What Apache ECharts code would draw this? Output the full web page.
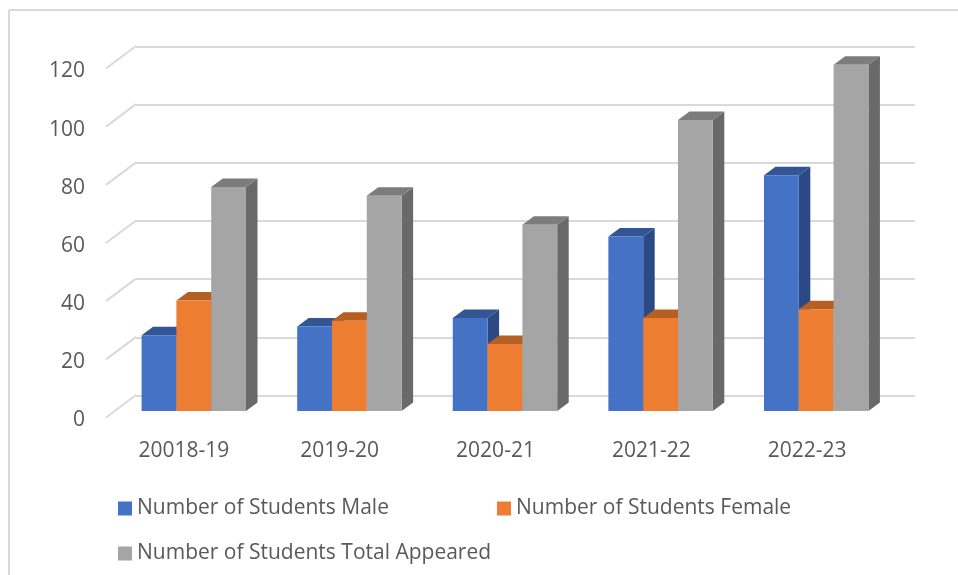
<!DOCTYPE html>
<html><head><meta charset="utf-8">
<style>html,body{margin:0;padding:0;background:#fff}#c{width:958px;height:575px}</style>
<script src="https://cdn.jsdelivr.net/npm/echarts@6/dist/echarts.min.js"></script>
</head><body><div id="c"></div>
<script>
const categories = ['20018-19','2019-20','2020-21','2021-22','2022-23'];
const male = [26,29,32,60,81];
const female = [38,31,23,32,35];
const total = [77,74,64,100,119];
const ticks = [0,20,40,60,80,100,120];
const names = ['Number of Students Male','Number of Students Female','Number of Students Total Appeared'];

const FONT = '"Open Sans","Noto Sans",sans-serif';
const TXT = '#595959', GRID = '#d9d9d9';
const faces = [
  {front:'#4472C4', top:'#335593', side:'#2B4A85'},
  {front:'#ED7D31', top:'#B65F23', side:'#8F4B1D'},
  {front:'#A5A5A5', top:'#7C7C7C', side:'#696969'}
];
const DX = 11.5, DY = 8.5;     // bar depth
const BAR_RATIO = 0.2237;      // one bar as a share of the category band
const WX = 30, WY = 22.5;      // side-wall depth

function barSeries(idx, values){
  const f = faces[idx];
  return {
    type:'custom', name:names[idx], xAxisIndex:0, yAxisIndex:0, z:5+idx, clip:false, silent:true,
    itemStyle:{color:f.front},
    encode:{x:0,y:1},
    data:values.map((v,i)=>[i,v]),
    renderItem(params, api){
      const p = api.coord([api.value(0), api.value(1)]);
      const b = api.coord([api.value(0), 0]);
      const band = api.size([1,0])[0];
      const w = band*BAR_RATIO;
      const x = p[0] - 1.5*w + idx*w;
      const y = p[1], y0 = b[1];
      return {type:'group', children:[
        {type:'polygon', shape:{points:[[x+w,y],[x+w+DX,y-DY],[x+w+DX,y0-DY],[x+w,y0]]}, style:{fill:f.side}},
        {type:'polygon', shape:{points:[[x,y],[x+w,y],[x+w+DX,y-DY],[x+DX,y-DY]]}, style:{fill:f.top}},
        {type:'rect', shape:{x:x,y:y,width:w,height:y0-y}, style:{fill:f.front}}
      ]};
    }
  };
}
const legendText = {color:TXT,fontFamily:FONT,fontSize:21};
const hiddenX = i => ({gridIndex:i,type:'category',data:categories,axisLine:{show:false},axisTick:{show:false},axisLabel:{show:false},splitLine:{show:false}});
const hiddenY = i => ({gridIndex:i,type:'value',min:0,max:120,interval:20,axisLine:{show:false},axisTick:{show:false},axisLabel:{show:false},splitLine:{show:false}});

const chart = echarts.init(document.getElementById('c'), null, {renderer:'canvas'});
chart.setOption({
  animation:false,
  backgroundColor:'#fff',
  graphic:[
    {type:'line', shape:{x1:9,y1:10,x2:958,y2:10}, style:{stroke:GRID,lineWidth:2}},
    {type:'line', shape:{x1:9,y1:10,x2:9,y2:575}, style:{stroke:GRID,lineWidth:2}}
  ],
  grid:[
    {left:116, top:61.8, width:778, height:349.2},   // plane of the bars
    {left:136, top:46.5, width:779, height:349},     // back wall
    {left:106, top:68.5, width:779, height:349},     // front edge of the side wall
    {left:106, top:71.5, width:779, height:349}      // value labels
  ],
  xAxis:[
    hiddenX(0), hiddenX(1),
    Object.assign(hiddenX(2),{axisLabel:{show:true,color:TXT,fontFamily:FONT,fontSize:21,margin:23}}),
    hiddenX(3)
  ],
  yAxis:[
    hiddenY(0),
    Object.assign(hiddenY(1),{splitLine:{show:true,lineStyle:{color:GRID,width:2}}}),
    hiddenY(2),
    Object.assign(hiddenY(3),{axisLabel:{show:true,color:TXT,fontFamily:FONT,fontSize:21,margin:21}})
  ],
  legend:[
    {data:[names[0]],left:113,top:493,itemWidth:14,itemHeight:14,icon:'rect',selectedMode:false,textStyle:legendText},
    {data:[names[1]],left:492,top:493,itemWidth:14,itemHeight:14,icon:'rect',selectedMode:false,textStyle:legendText},
    {data:[names[2]],left:113,top:538,itemWidth:14,itemHeight:14,icon:'rect',selectedMode:false,textStyle:legendText}
  ],
  series:[
    {
      type:'custom', name:'walls', xAxisIndex:2, yAxisIndex:2, z:1, clip:false, silent:true,
      encode:{y:1},
      data:ticks.map(t=>[0,t]),
      renderItem(params, api){
        const y = api.coord([0, api.value(1)])[1];
        const x = params.coordSys.x;
        return {type:'line', shape:{x1:x,y1:y,x2:x+WX,y2:y-WY}, style:{stroke:GRID,lineWidth:2}};
      }
    },
    barSeries(0,male), barSeries(1,female), barSeries(2,total)
  ]
});
</script></body></html>
